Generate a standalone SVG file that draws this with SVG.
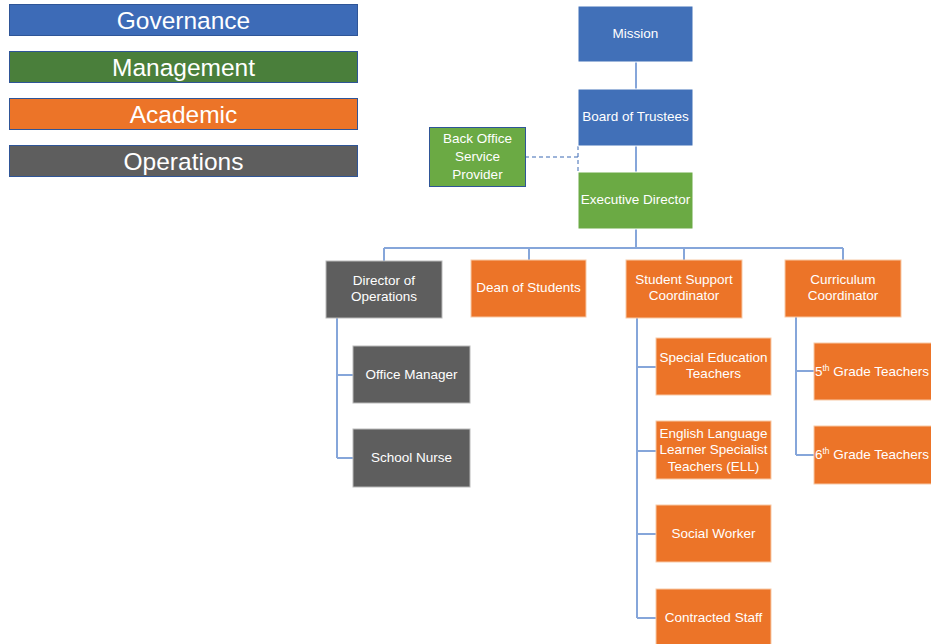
<svg xmlns="http://www.w3.org/2000/svg" width="931" height="644" viewBox="0 0 931 644">
<style>
text{font-family:"Liberation Sans",Arial,sans-serif;fill:#fff;text-anchor:middle}
.lg{font-size:24.5px}
.nt{font-size:13.5px}
.gov{fill:#4170B8;stroke:#fff;stroke-width:1}
.mgt{fill:#6BAA44;stroke:#fff;stroke-width:1}
.aca{fill:#EC7428;stroke:#F8C9A6;stroke-width:1}
.ops{fill:#5E5E5E;stroke:#B9B9B9;stroke-width:1}
.leg{stroke:#2F5597;stroke-width:1}
.c{fill:none;stroke:#86A6DA;stroke-width:2}
.d{fill:none;stroke:#3A68B3;stroke-width:1;stroke-dasharray:4 3}
</style>
<g id="legend">
<g id="leg-governance"><rect class="leg" x="9.5" y="4.5" width="348" height="31" fill="#3D6BB7"/><text class="lg" x="183.5" y="29">Governance</text></g>
<g id="leg-management"><rect class="leg" x="9.5" y="51.5" width="348" height="31" fill="#4A7F3B"/><text class="lg" x="183.5" y="76">Management</text></g>
<g id="leg-academic"><rect class="leg" x="9.5" y="98.5" width="348" height="31" fill="#EC7428"/><text class="lg" x="183.5" y="123">Academic</text></g>
<g id="leg-operations"><rect class="leg" x="9.5" y="145.5" width="348" height="31" fill="#5E5E5E"/><text class="lg" x="183.5" y="170">Operations</text></g>
</g>
<g id="connectors">
<path class="c" d="M636 62V89M636 146V172M636 229V248M384 248H843M384 248V261M529 248V260M684 248V260M843 248V260"/>
<path class="c" d="M337 318V458M337 375H353M337 458H353"/>
<path class="c" d="M637 318V618M637 367H656M637 451H656M637 534H656M637 618H656"/>
<path class="c" d="M796 317V455M796 371H814M796 455H814"/>
<path class="d" d="M525 157H578M578 146V172"/>
</g>
<g id="mission"><rect class="gov" x="578" y="6" width="115" height="56"/><text class="nt" x="635.5" y="38">Mission</text></g>
<g id="board"><rect class="gov" x="578" y="89" width="115" height="57"/><text class="nt" x="635.5" y="121">Board of Trustees</text></g>
<g id="backoffice"><rect x="429.5" y="127.5" width="96" height="59" fill="#6BAA44" stroke="#2F5597" stroke-width="1"/><text class="nt" x="477.5" y="143">Back Office</text><text class="nt" x="477.5" y="161">Service</text><text class="nt" x="477.5" y="179">Provider</text></g>
<g id="exec"><rect class="mgt" x="578" y="172" width="115" height="57"/><text class="nt" x="635.5" y="204">Executive Director</text></g>
<g id="dirops"><rect class="ops" x="326" y="261" width="116" height="57"/><text class="nt" x="384" y="285">Director of</text><text class="nt" x="384" y="301">Operations</text></g>
<g id="dean"><rect class="aca" x="471" y="260" width="115" height="57"/><text class="nt" x="528.5" y="292">Dean of Students</text></g>
<g id="ssc"><rect class="aca" x="626" y="260" width="116" height="58"/><text class="nt" x="684" y="284">Student Support</text><text class="nt" x="684" y="300">Coordinator</text></g>
<g id="curr"><rect class="aca" x="785" y="260" width="116" height="57"/><text class="nt" x="843" y="284">Curriculum</text><text class="nt" x="843" y="300">Coordinator</text></g>
<g id="office"><rect class="ops" x="353" y="346" width="117" height="57"/><text class="nt" x="411.5" y="379">Office Manager</text></g>
<g id="nurse"><rect class="ops" x="353" y="429" width="117" height="58"/><text class="nt" x="411.5" y="462">School Nurse</text></g>
<g id="sped"><rect class="aca" x="656" y="338" width="115" height="57"/><text class="nt" x="713.5" y="362">Special Education</text><text class="nt" x="713.5" y="378">Teachers</text></g>
<g id="ell"><rect class="aca" x="656" y="421" width="115" height="58"/><text class="nt" x="713.5" y="438">English Language</text><text class="nt" x="713.5" y="454">Learner Specialist</text><text class="nt" x="713.5" y="471">Teachers (ELL)</text></g>
<g id="social"><rect class="aca" x="656" y="505" width="115" height="57"/><text class="nt" x="713.5" y="538">Social Worker</text></g>
<g id="contracted"><rect class="aca" x="656" y="589" width="115" height="56"/><text class="nt" x="713.5" y="622">Contracted Staff</text></g>
<g id="grade5"><rect class="aca" x="814" y="343" width="118" height="57"/><text class="nt" x="872" y="376">5<tspan font-size="8.5" dy="-5">th</tspan><tspan dy="5"> Grade Teachers</tspan></text></g>
<g id="grade6"><rect class="aca" x="814" y="426" width="118" height="58"/><text class="nt" x="872" y="459">6<tspan font-size="8.5" dy="-5">th</tspan><tspan dy="5"> Grade Teachers</tspan></text></g>
</svg>
